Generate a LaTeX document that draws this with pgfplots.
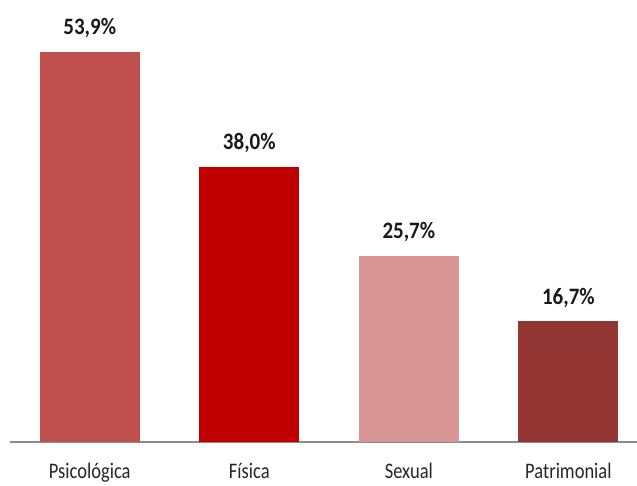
\documentclass[border=0pt]{standalone}
\usepackage{pgfplots}
\pgfplotsset{compat=1.18}
\usepackage{fontspec}
\setmainfont{Carlito}
\definecolor{cPsi}{HTML}{C0504D}
\definecolor{cFis}{HTML}{C00000}
\definecolor{cSex}{HTML}{D99694}
\definecolor{cPat}{HTML}{943634}
\definecolor{axgray}{HTML}{8C8C8C}
\begin{document}
\begin{tikzpicture}
\path[use as bounding box] (-10bp,-44bp) rectangle (627bp,442bp);
\begin{axis}[
  at={(0,0)}, anchor=south west,
  scale only axis,
  width=627bp, height=434.4bp,
  xmin=-0.5, xmax=3.43, ymin=0, ymax=60,
  axis x line*=bottom,
  axis y line=none,
  x axis line style={draw=axgray, line width=1.3bp, -},
  xtick={0,1,2,3},
  xticklabels={\scalebox{1}[1.2]{Psicológica},\scalebox{1}[1.2]{Física},\scalebox{1}[1.2]{Sexual},\scalebox{1}[1.2]{Patrimonial}},
  major tick length=0pt,
  xticklabel style={anchor=base, yshift=-36bp, font=\fontsize{18.5bp}{22bp}\selectfont, text=black!85},
  ybar, bar width=100bp, bar shift=0pt,
  /pgf/number format/assume math mode=true,
  nodes near coords={\scalebox{1}[1.12]{\pgfmathprintnumber[use comma,fixed,fixed zerofill,precision=1,assume math mode=true]{\pgfplotspointmeta}\%}},
  every node near coord/.append style={anchor=base, yshift=17bp, font=\bfseries\fontsize{21bp}{24bp}\selectfont, text=black!90},
  clip=false,
]
\addplot[draw=none, fill=cPsi] coordinates {(0,53.9)};
\addplot[draw=none, fill=cFis] coordinates {(1,38.0)};
\addplot[draw=none, fill=cSex] coordinates {(2,25.7)};
\addplot[draw=none, fill=cPat] coordinates {(3,16.7)};
\end{axis}
\end{tikzpicture}
\end{document}
